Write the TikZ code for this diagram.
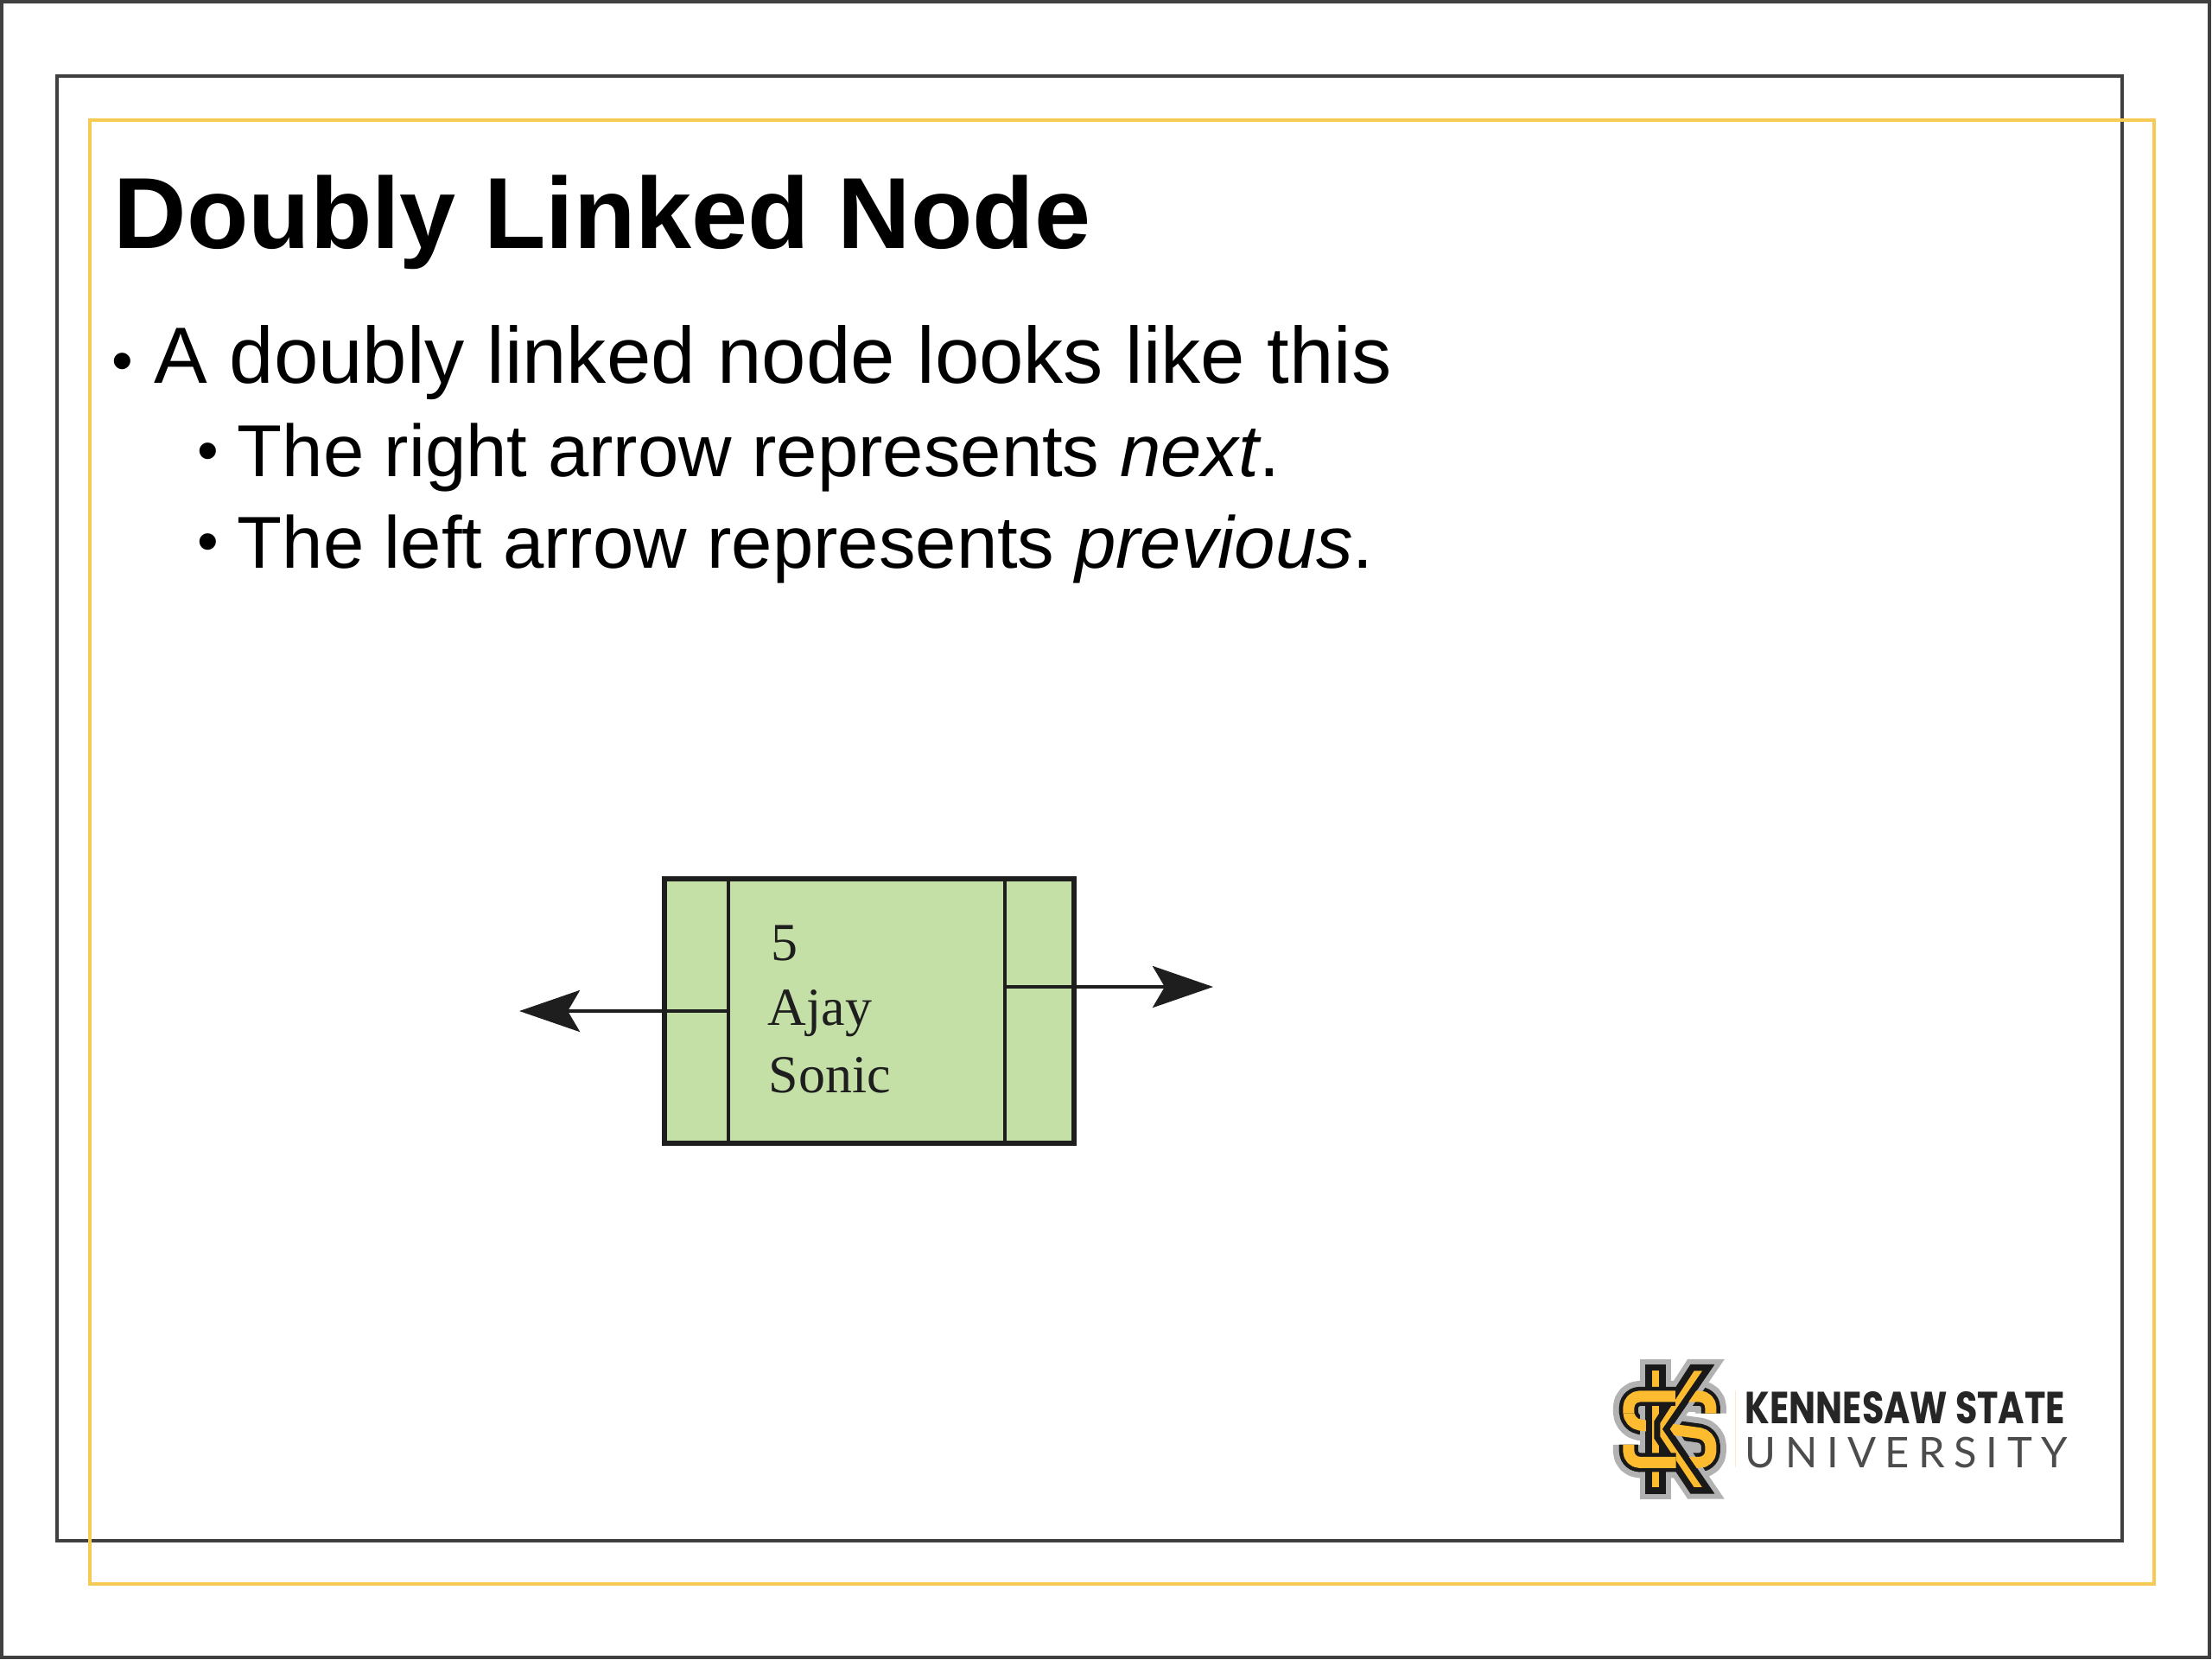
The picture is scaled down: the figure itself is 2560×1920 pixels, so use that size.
\documentclass[tikz,border=0pt]{standalone}
\usepackage{fontspec}
\setmainfont{Liberation Sans}
\newfontfamily\boxserif{Liberation Serif}
\newfontfamily\logobold{Poppins}[Scale=1]
\newfontfamily\logolight{Lato}[LetterSpace=21.5]
\usetikzlibrary{arrows.meta}
\definecolor{ksugold}{HTML}{F5CB55}
\definecolor{logogold}{HTML}{FDBB30}
\definecolor{framegray}{HTML}{404040}
\definecolor{cellgreen}{HTML}{C4E0A7}
\definecolor{inkdark}{HTML}{1E1E1E}
\tikzset{
  darkframe/.style={draw=framegray,line width=0.045cm},
  goldframe/.style={draw=ksugold,line width=0.045cm},
  titletext/.style={anchor=base west,inner sep=0pt,font=\fontsize{33.25}{40}\selectfont\bfseries},
  bodytext/.style={anchor=base west,inner sep=0pt,font=\fontsize{26.26}{32}\selectfont},
  subtext/.style={anchor=base west,inner sep=0pt,font=\fontsize{24.2}{30}\selectfont},
  bullettext/.style={anchor=base,inner sep=0pt,font=\fontsize{20}{24}\selectfont},
  cellbox/.style={draw=inkdark,fill=cellgreen,line width=0.04cm,inner sep=0pt,outer sep=0pt,minimum height=3.06cm},
  boxedge/.style={draw=inkdark,line width=0.06cm},
  datatext/.style={anchor=base west,inner sep=0pt,text=inkdark,font=\boxserif\fontsize{17.6}{22}\selectfont},
  linkline/.style={draw=inkdark,line width=0.04cm,-{Stealth[length=0.7cm,width=0.48cm,inset=0.14cm]}},
  logostroke/.style={line join=round,rounded corners=0.13cm},
}
\begin{document}
\begin{tikzpicture}[x=0.01cm,y=-0.01cm]
\useasboundingbox (0,0) rectangle (2560,1920);
\fill[white] (0,0) rectangle (2560,1920);
% frames
\draw[darkframe] (2,2) rectangle (2557,1918);
\draw[darkframe] (66,88) rectangle (2456,1783);
\draw[goldframe] (104,139) rectangle (2493,1833);
% text
\node[titletext] (title) at (131,287) {Doubly Linked Node};
\node[bullettext] (b1) at (142,441) {•};
\node[bodytext] (l1) at (178,443) {A doubly linked node looks like this};
\node[bullettext] (b2) at (241,545) {•};
\node[subtext] (l2) at (274,551) {The right arrow represents \textit{next}.};
\node[bullettext] (b3) at (241,650) {•};
\node[subtext] (l3) at (274,657) {The left arrow represents \textit{previous}.};
% doubly linked node
\node[cellbox,minimum width=0.74cm] (prevcell) at (806,1170) {};
\node[cellbox,minimum width=3.20cm] (datacell) at (1003,1170) {};
\node[cellbox,minimum width=0.80cm] (nextcell) at (1203,1170) {};
\draw[boxedge] (prevcell.north west) rectangle (nextcell.south east);
\node[datatext] (v5) at (892,1111) {5};
\node[datatext] (vajay) at (888,1186) {Ajay};
\node[datatext] (vsonic) at (889,1264) {Sonic};
\coordinate (prevend) at (601,1170);
\coordinate (nextend) at (1404,1142);
\draw[linkline] (datacell.west |- prevend) -- (prevend);
\draw[linkline] (datacell.east |- nextend) -- (nextend);
% logo
\begin{scope}[shift={(1840,1540)},x=0.0038cm,y=-0.0033cm]
  \def\ksuS{(368,290) -- (368,230) -- (118,230) -- (118,325) -- (368,365) -- (368,462) -- (118,462) -- (118,400)}
  \def\ksuStem{(180,130) -- (220,130) -- (220,560) -- (180,560) -- cycle}
  \def\ksuKarm{(312,130) -- (360,130) -- (232,345) -- (360,560) -- (312,560) -- (205,375) -- (205,320) -- cycle}
  \def\ksuTopS{(118,290) -- (118,230) -- (260,230)}
  \def\ksuBotS{(118,400) -- (118,462) -- (262,462)}
  % grey halo and black outline
  \foreach \wid/\col in {0.36cm/black!30,0.22cm/black!90} {
    \draw[logostroke,line width=\wid,draw=\col] \ksuS;
  }
  \draw[line width=0.20cm,draw=black!30,line join=miter,fill=black!30] \ksuStem;
  \draw[line width=0.20cm,draw=black!30,line join=miter,fill=black!30] \ksuKarm;
  \draw[line width=0.08cm,draw=black!90,line join=miter,fill=black!90] \ksuStem;
  \draw[line width=0.08cm,draw=black!90,line join=miter,fill=black!90] \ksuKarm;
  % gold letters
  \draw[logostroke,line width=0.13cm,draw=logogold] \ksuS;
  \draw[line width=0.07cm,draw=black!90,line join=miter,fill=logogold] \ksuStem;
  \draw[line width=0.07cm,draw=black!90,line join=miter,fill=logogold] \ksuKarm;
  % S bars running in front of the stem
  \draw[logostroke,line width=0.22cm,draw=black!90] \ksuTopS;
  \draw[logostroke,line width=0.22cm,draw=black!90] \ksuBotS;
  \draw[logostroke,line width=0.13cm,draw=logogold] \ksuTopS;
  \draw[logostroke,line width=0.13cm,draw=logogold] \ksuBotS;
  \draw[draw=ksugold!35,line width=0.012cm] (443,210) -- (443,478);
\end{scope}
\node[anchor=base west,inner sep=0pt,text=black!85] (ksu1) at (2019,1647) {\resizebox{3.7cm}{0.37cm}{\logobold\bfseries KENNESAW STATE}};
\node[anchor=base west,inner sep=0pt,text=black!70] (ksu2) at (2019,1698) {\logolight\fontsize{13.9}{16}\selectfont UNIVERSITY};
\end{tikzpicture}
\end{document}
